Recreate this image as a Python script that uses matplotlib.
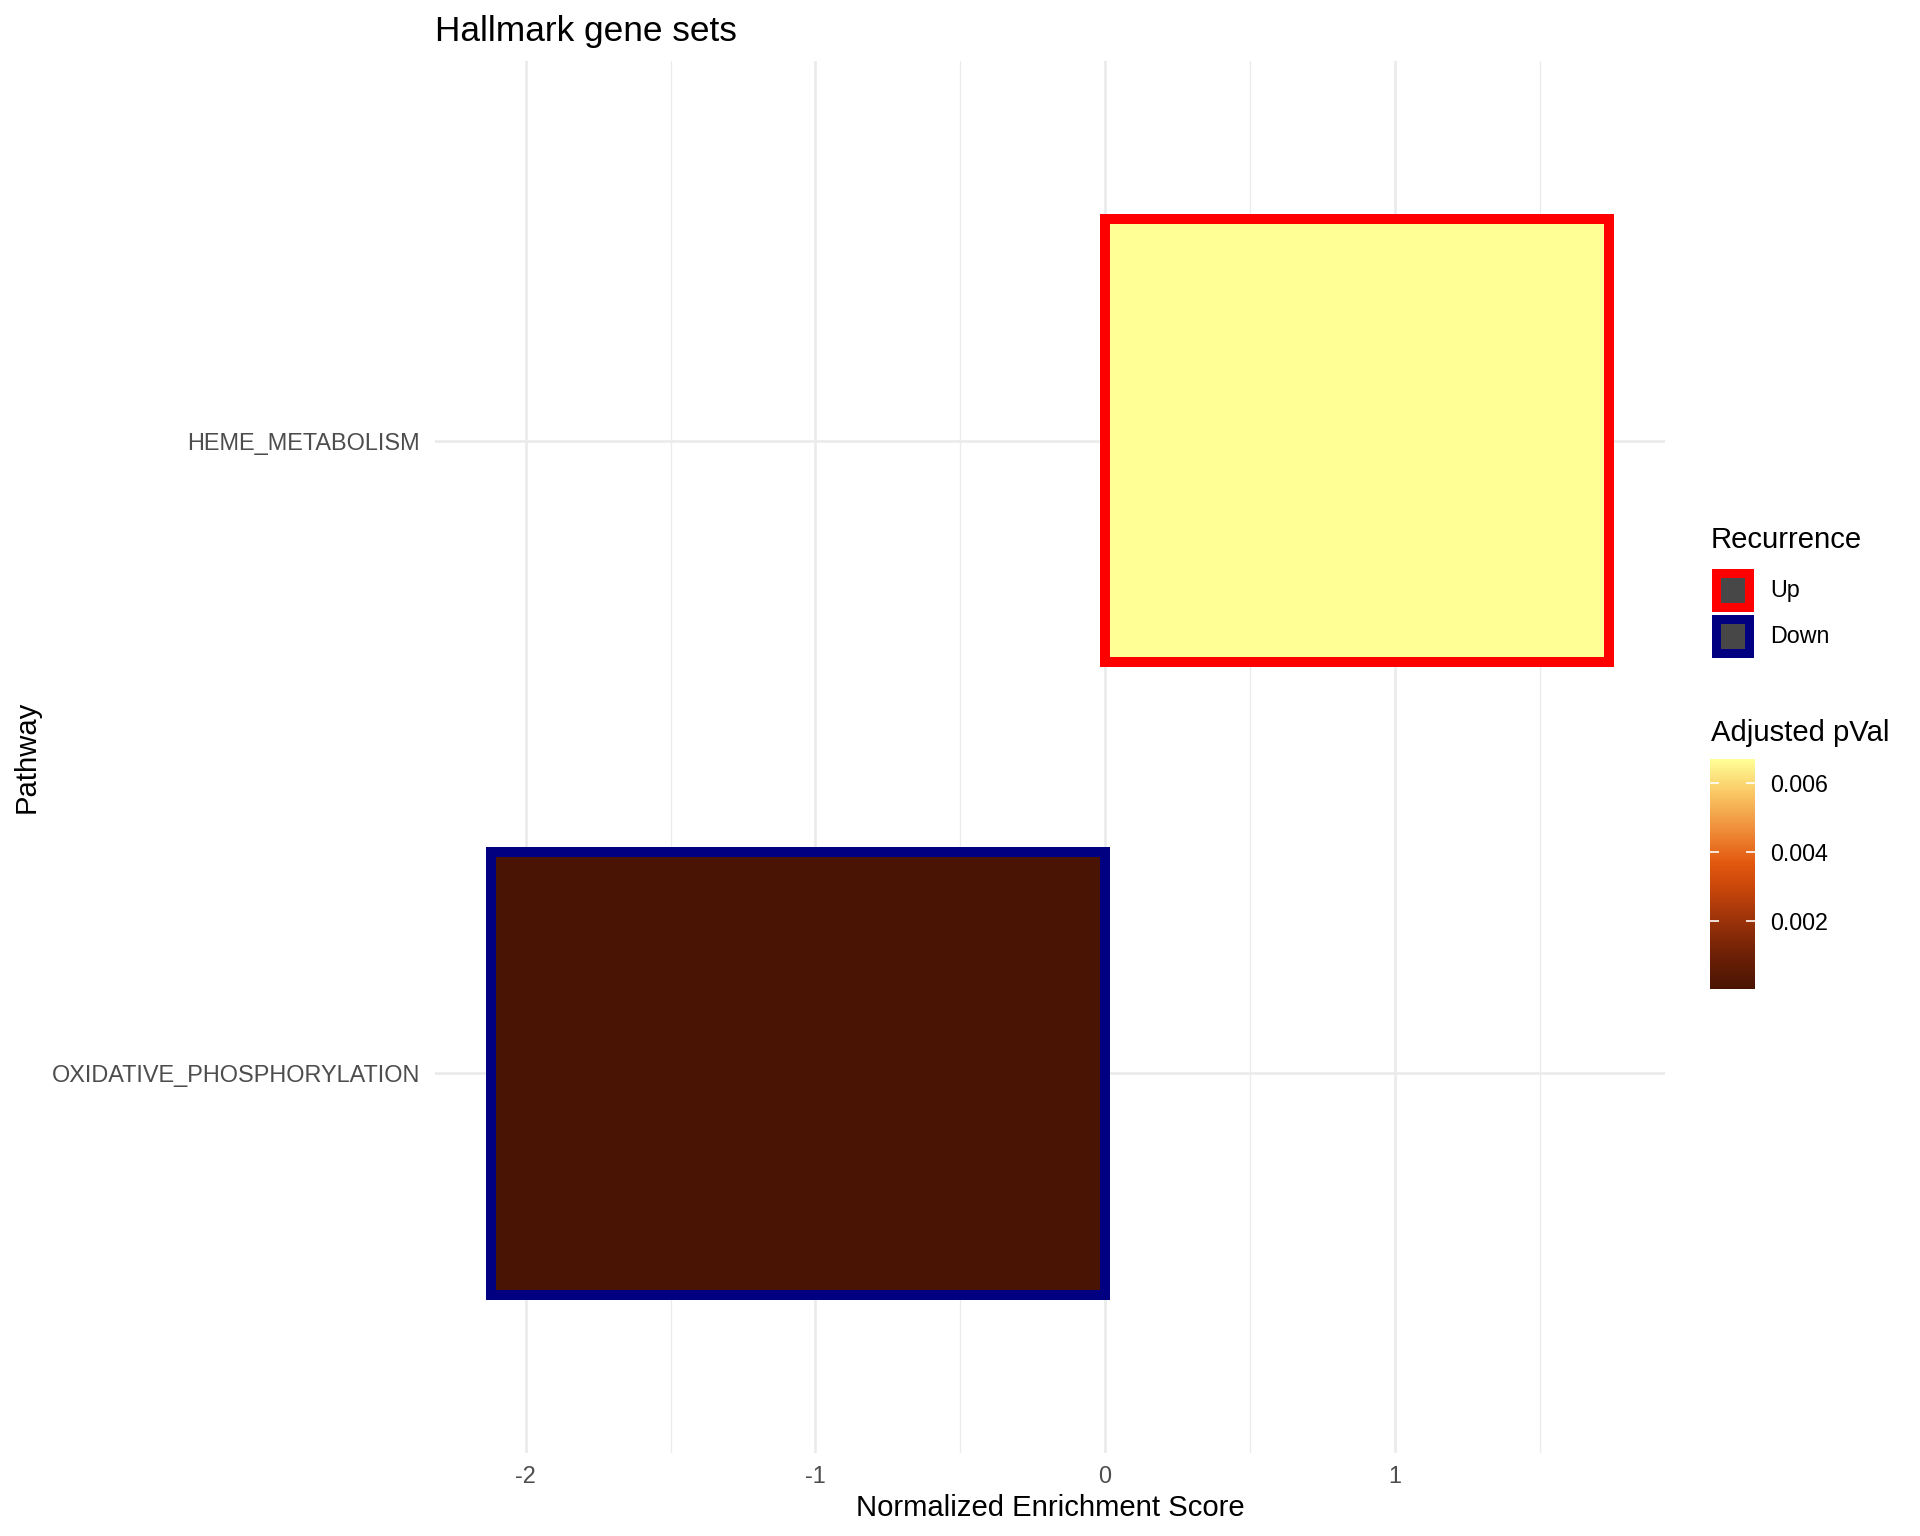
import numpy as np
import matplotlib
matplotlib.use("Agg")
import matplotlib.pyplot as plt
from matplotlib.colors import LinearSegmentedColormap, Normalize
from matplotlib.patches import Patch
from matplotlib.ticker import MultipleLocator

plt.rcParams['font.family'] = ['Liberation Sans', 'DejaVu Sans']

# data
pathways = ["OXIDATIVE_PHOSPHORYLATION", "HEME_METABOLISM"]
nes = [-2.12, 1.74]
padj = [0.00002, 0.0067]
recurrence = ["Down", "Up"]
rec_levels = ["Up", "Down"]
rec_colors = {"Up": "#FF0000", "Down": "#000080"}
cbar_ticks = [0.002, 0.004, 0.006]
x_ticks = [-2, -1, 0, 1]

W, H = 1920, 1536
fig = plt.figure(figsize=(9.6, 7.68), dpi=200)

# panel position in pixels
left, right, top, bottom = 435, 1665, 61, 1453
ax = fig.add_axes([left / W, 1 - bottom / H, (right - left) / W, (bottom - top) / H])

cmap = LinearSegmentedColormap.from_list("pval", [
    (0.0, "#4A1404"),
    (0.15, "#6E2006"),
    (0.3, "#9C330A"),
    (0.45, "#CC480A"),
    (0.55, "#E2590E"),
    (0.7, "#F08F3C"),
    (0.85, "#F9C664"),
    (1.0, "#FFFF96"),
])
norm = Normalize(vmin=min(padj), vmax=max(padj))

ypos = np.arange(len(pathways))
px = 72 / 200  # points per pixel
ax.barh(ypos, nes, height=0.7, color=cmap(norm(np.array(padj))),
        edgecolor=[rec_colors[r] for r in recurrence], linewidth=10 * px, zorder=3)

span = max(nes) - min(nes)
ax.set_xlim(min(nes) - 0.05 * span, max(nes) + 0.05 * span)
ax.set_ylim(-0.6, len(pathways) - 0.4)

ax.set_yticks(ypos)
ax.set_yticklabels(pathways)
ax.set_xticks(x_ticks)
ax.set_xticklabels([str(t) for t in x_ticks])
ax.xaxis.set_minor_locator(MultipleLocator(0.5))
ax.grid(which="major", color="#EBEBEB", linewidth=2.6 * px)
ax.grid(which="minor", axis="x", color="#EBEBEB", linewidth=1.3 * px)
ax.set_axisbelow(True)
ax.tick_params(which="both", length=0)
ax.tick_params(axis="x", labelsize=8.45, labelcolor="#4D4D4D", pad=4.3)
ax.tick_params(axis="y", labelsize=8.45, labelcolor="#4D4D4D", pad=5.4)
for s in ax.spines.values():
    s.set_visible(False)

fig.text(left / W, 1 - 32 / H, "Hallmark gene sets", fontsize=12.7, ha="left", va="center")
fig.text((left + right) / 2 / W, 1 - 1508 / H, "Normalized Enrichment Score",
         fontsize=10.56, ha="center", va="center")
fig.text(27 / W, 1 - (top + bottom) / 2 / H, "Pathway", fontsize=10.56,
         rotation=90, ha="center", va="center")

# Recurrence legend
fig.text(1711 / W, 1 - 540 / H, "Recurrence", fontsize=10.56, ha="left", va="center")
handles = [Patch(facecolor="#474747", edgecolor=rec_colors[r], linewidth=9 * px, label=r)
           for r in rec_levels]
leg = fig.legend(handles=handles, loc="upper left",
                 bbox_to_anchor=(1715.5 / W, 1 - 572.5 / H), frameon=False,
                 fontsize=8.4, handlelength=1.457, handleheight=1.865,
                 handletextpad=0.88, labelspacing=0.536, borderpad=0, borderaxespad=0)

# colour bar
cax = fig.add_axes([1710 / W, 1 - 989 / H, 45 / W, 230 / H])
sm = plt.cm.ScalarMappable(norm=norm, cmap=cmap)
cbar = fig.colorbar(sm, cax=cax, ticks=cbar_ticks)
cbar.outline.set_visible(False)
cbar.ax.set_yticklabels([f"{t:.3f}" for t in cbar_ticks])
cax.tick_params(direction="in", color="white", length=3.4, width=0.6,
                left=True, right=True, labelleft=False, labelright=True,
                labelsize=8.4, pad=5.6)
fig.text(1711 / W, 1 - 733 / H, "Adjusted pVal", fontsize=10.56, ha="left", va="center")

fig.savefig("out.png", dpi=200, facecolor="white")
